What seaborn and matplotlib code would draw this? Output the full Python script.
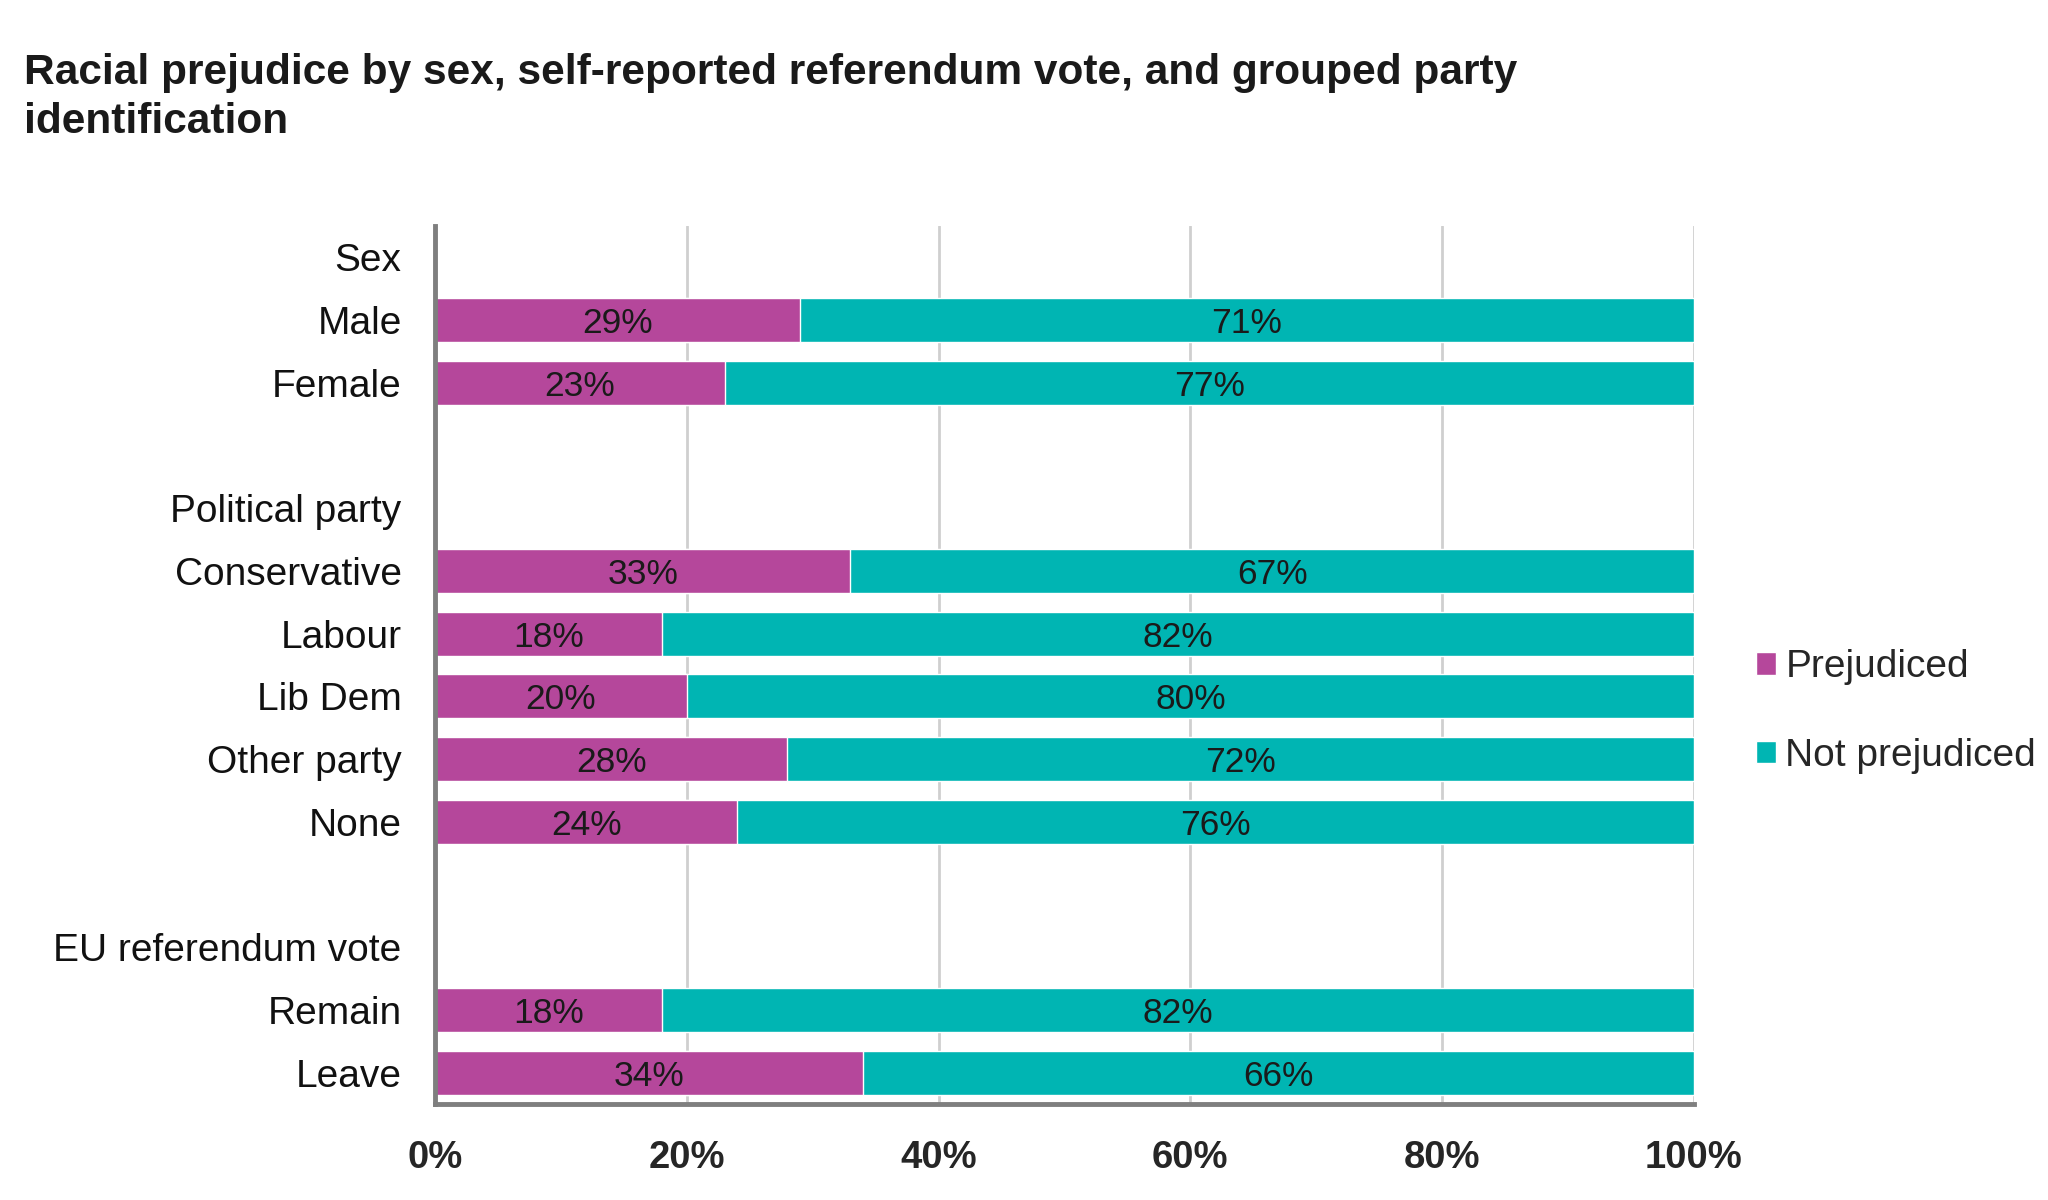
import matplotlib
matplotlib.use("Agg")
import matplotlib.pyplot as plt
import seaborn as sns
import pandas as pd
from matplotlib.patches import Patch

# ---- data ----
row_order = ["Sex", "Male", "Female", " ",
             "Political party", "Conservative", "Labour", "Lib Dem", "Other party", "None", "  ",
             "EU referendum vote", "Remain", "Leave"]
categories = ["Male", "Female", "Conservative", "Labour", "Lib Dem", "Other party", "None", "Remain", "Leave"]
prejudiced = [29, 23, 33, 18, 20, 28, 24, 18, 34]
not_prejudiced = [71, 77, 67, 82, 80, 72, 76, 82, 66]
x_ticks = [0, 20, 40, 60, 80, 100]
x_tick_labels = ["0%", "20%", "40%", "60%", "80%", "100%"]
series_names = ["Prejudiced", "Not prejudiced"]

MAGENTA = "#B5479B"
TEAL = "#00B5B3"

sns.set_style("white")
plt.rcParams["font.family"] = ["Liberation Sans", "DejaVu Sans"]

df = pd.DataFrame({"cat": categories, "prej": prejudiced, "notprej": not_prejudiced})
df["total"] = df["prej"] + df["notprej"]

fig = plt.figure(figsize=(20.48, 12), dpi=100)
ax = fig.add_axes([0.2124, 0.08, 0.6147, 0.7317])

sns.barplot(data=df, y="cat", x="total", order=row_order, color=TEAL, orient="h",
            width=0.7, saturation=1, ax=ax, zorder=3)
sns.barplot(data=df, y="cat", x="prej", order=row_order, color=MAGENTA, orient="h",
            width=0.7, saturation=1, ax=ax, zorder=3)

# labels centered in segments
pos = {c: i for i, c in enumerate(row_order)}
for c, p, n in zip(categories, prejudiced, not_prejudiced):
    y = pos[c]
    ax.text(p / 2, y, f"{p}%", ha="center", va="center_baseline", fontsize=25.5, color="#1a1a1a", zorder=4)
    ax.text(p + n / 2, y, f"{n}%", ha="center", va="center_baseline", fontsize=25.5, color="#1a1a1a", zorder=4)

ax.set_xlim(0, 100)
ax.set_ylim(len(row_order) - 0.5, -0.5)
ax.set_xticks(x_ticks)
ax.set_xticklabels(x_tick_labels, fontsize=27.5, fontweight="bold")
ax.tick_params(axis="x", length=0, pad=26)
ax.tick_params(axis="y", length=0, pad=24, labelsize=28)
ax.set_xlabel("")
ax.set_ylabel("")
for lab in ax.get_yticklabels():
    lab.set_color("#111111")
    lab.set_verticalalignment("center_baseline")

ax.grid(axis="x", color="#CFCFCF", linewidth=2, zorder=0)
ax.grid(axis="y", visible=False)
for s in ["top", "right"]:
    ax.spines[s].set_visible(False)
for s in ["left", "bottom"]:
    ax.spines[s].set_color("#7F7F7F")
    ax.spines[s].set_linewidth(3.5)
    ax.spines[s].set_zorder(5)

fig.text(0.0117, 0.919, "Racial prejudice by sex, self-reported referendum vote, and grouped party\nidentification",
         fontsize=30.5, fontweight="bold", ha="left", va="center", linespacing=1.3, color="#1a1a1a")

handles = [Patch(facecolor=MAGENTA, label=series_names[0]), Patch(facecolor=TEAL, label=series_names[1])]
fig.legend(handles=handles, loc="center left", bbox_to_anchor=(0.8575, 0.407), frameon=False,
           fontsize=28, handlelength=0.5, handleheight=0.5, handletextpad=0.25, labelspacing=1.35,
           borderpad=0, borderaxespad=0)

fig.savefig("out.png", dpi=100, facecolor="white")
